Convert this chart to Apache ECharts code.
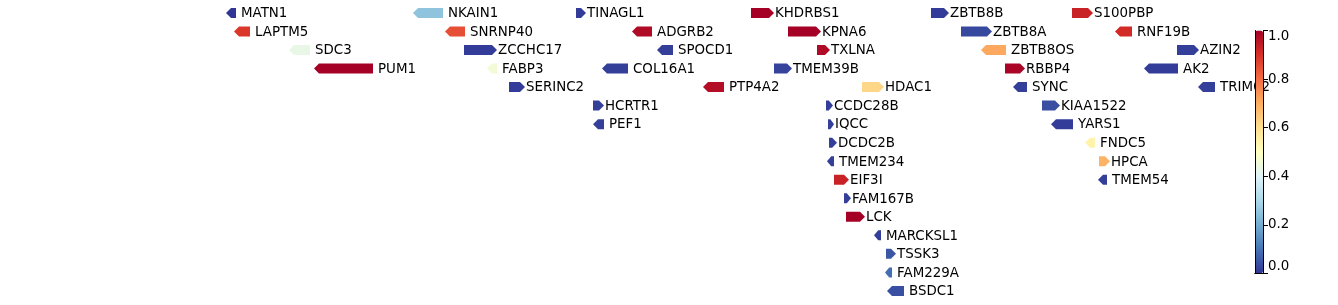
<!DOCTYPE html>
<html><head><meta charset="utf-8">
<script src="https://cdn.jsdelivr.net/npm/echarts@6/dist/echarts.min.js"></script>
<style>html,body{margin:0;padding:0;background:#fff}#c{width:1338px;height:305px}</style>
</head><body><div id="c"></div>
<script>
const geneNames = ["MATN1","NKAIN1","TINAGL1","KHDRBS1","ZBTB8B","S100PBP",
 "LAPTM5","SNRNP40","ADGRB2","KPNA6","ZBTB8A","RNF19B",
 "SDC3","ZCCHC17","SPOCD1","TXLNA","ZBTB8OS","AZIN2",
 "PUM1","FABP3","COL16A1","TMEM39B","RBBP4","AK2",
 "SERINC2","PTP4A2","HDAC1","SYNC","TRIM62",
 "HCRTR1","CCDC28B","KIAA1522",
 "PEF1","IQCC","YARS1",
 "DCDC2B","FNDC5",
 "TMEM234","HPCA",
 "EIF3I","TMEM54",
 "FAM167B","LCK","MARCKSL1","TSSK3","FAM229A","BSDC1"];
const geneStart = [26,213,376,551,731,872,
 34,245,432,588,761,915,
 89,264,457,617,781,977,
 114,287,402,574,805,944,
 309,503,662,813,998,
 393,626,842,
 393,628,851,
 629,885,
 627,899,
 634,898,
 644,646,674,686,685,687];
const geneEnd = [36,243,386,574,749,893,
 50,265,452,621,792,932,
 110,297,473,630,806,999,
 173,297,428,592,825,978,
 325,524,684,827,1015,
 404,633,860,
 404,634,873,
 637,895,
 634,910,
 649,907,
 651,665,681,696,692,704];
const geneRow = [0,0,0,0,0,0, 1,1,1,1,1,1, 2,2,2,2,2,2, 3,3,3,3,3,3,
 4,4,4,4,4, 5,5,5, 6,6,6, 7,7, 8,8, 9,9, 10,11,12,13,14,15];
const geneStrand = [-1,-1,1,1,1,1, -1,-1,-1,1,1,-1, -1,1,-1,1,-1,1, -1,-1,-1,1,1,-1,
 1,-1,1,-1,-1, 1,1,1, -1,1,-1, 1,-1, -1,1, 1,-1, 1,1,-1,1,-1,-1];
const geneScore = [0.0,0.25,0.01,1.0,0.01,0.93,
 0.89,0.85,0.98,1.0,0.03,0.91,
 0.43,0.01,0.015,0.98,0.71,0.015,
 1.0,0.46,0.015,0.02,0.99,0.01,
 0.01,0.97,0.62,0.015,0.015,
 0.015,0.015,0.04,
 0.015,0.015,0.01,
 0.015,0.54,
 0.015,0.69,
 0.93,0.015,
 0.015,1.0,0.015,0.05,0.09,0.04];
const rowLabels = ["0","1","2","3","4","5","6","7","8","9","10","11","12","13","14","15"];
const colorbarTicks = [0.0,0.2,0.4,0.6,0.8,1.0];
const rdylbuR = ['#313695','#4575b4','#74add1','#abd9e9','#e0f3f8','#ffffbf','#fee090','#fdae61','#f46d43','#d73027','#a50026'];

const data = geneNames.map((n,i)=>[geneStart[i],geneEnd[i],geneRow[i],geneStrand[i],geneScore[i],n]);
const FONT = '13.4px "DejaVu Sans"';

function renderItem(params, api){
  const row = api.value(2);
  const s = api.coord([api.value(0), row]);
  const e = api.coord([api.value(1), row]);
  const strand = api.value(3);
  const h = 10, y = s[1];
  const x0 = s[0], x1 = e[0], w = x1 - x0;
  const head = Math.min(5, w*0.6);
  let pts;
  if (strand > 0) pts = [[x0,y-h/2],[x1-head,y-h/2],[x1,y],[x1-head,y+h/2],[x0,y+h/2]];
  else pts = [[x1,y-h/2],[x0+head,y-h/2],[x0,y],[x0+head,y+h/2],[x1,y+h/2]];
  return {type:'group', children:[
    {type:'polygon', shape:{points:pts}, style:{fill: api.visual('color')}},
    {type:'text', x: x1 + (strand>0?1:5), y: y+0.8,
     style:{text: geneNames[params.dataIndex], font: FONT, fill:'#000', verticalAlign:'middle', align:'left'}}
  ]};
}

const chart = echarts.init(document.getElementById('c'), null, {renderer:'canvas'});
chart.setOption({
  animation:false,
  backgroundColor:'#fff',
  grid:[
    {left:200, width:1100, top:3.7, height:296.5},
    {left:1255, width:8, top:30.5, height:243}
  ],
  xAxis:[
    {gridIndex:0, type:'value', min:0, max:1100, show:false},
    {gridIndex:1, type:'value', min:0, max:1, show:true, position:'top', z:10,
     axisLine:{show:true, lineStyle:{color:'#000', width:1}}, axisTick:{show:false}, axisLabel:{show:false}, splitLine:{show:false}},
    {gridIndex:1, type:'value', min:0, max:1, show:true, position:'bottom', z:10,
     axisLine:{show:true, onZero:false, lineStyle:{color:'#000', width:1}}, axisTick:{show:false}, axisLabel:{show:false}, splitLine:{show:false}}
  ],
  yAxis:[
    {gridIndex:0, type:'category', data:rowLabels, inverse:true, show:false},
    {gridIndex:1, type:'value', min:0, max:1, position:'right', z:10,
     axisLine:{show:true, onZero:false, lineStyle:{color:'#000', width:1}},
     axisTick:{show:true, length:5, lineStyle:{color:'#000'}, customValues:colorbarTicks},
     axisLabel:{show:true, margin:5, color:'#000', fontFamily:'DejaVu Sans', fontSize:13.4,
       customValues:colorbarTicks, formatter:v=>v.toFixed(1),
       verticalAlignMinLabel:'bottom', verticalAlignMaxLabel:'top'},
     splitLine:{show:false}},
    {gridIndex:1, type:'value', min:0, max:1, position:'left', z:10,
     axisLine:{show:true, onZero:false, lineStyle:{color:'#000', width:1}},
     axisTick:{show:false}, axisLabel:{show:false}, splitLine:{show:false}}
  ],
  visualMap:{
    type:'continuous', min:0, max:1, dimension:4, seriesIndex:0,
    inRange:{color:rdylbuR}, orient:'vertical',
    left:1255, top:30.5, itemWidth:8, itemHeight:243, padding:0,
    calculable:false, showLabel:false, text:null, realtime:false, hoverLink:false
  },
  series:[{
    type:'custom', xAxisIndex:0, yAxisIndex:0, data:data,
    encode:{x:[0,1], y:2}, renderItem:renderItem, clip:false
  }]
});
</script></body></html>
